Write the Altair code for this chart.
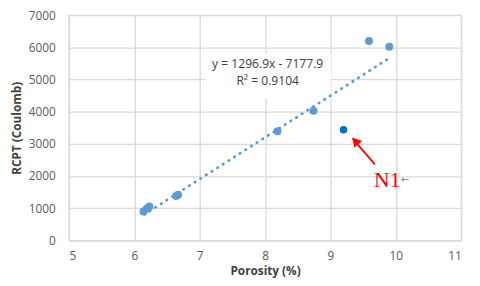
import altair as alt
import pandas as pd

# Measured points (Porosity %, RCPT Coulomb)
por = [6.14, 6.19, 6.23, 6.64, 6.67, 8.19, 8.74, 9.59, 9.90]
rcpt = [900, 980, 1050, 1380, 1420, 3390, 4030, 6200, 6020]
# Outlier N1
n1_por = [9.20]
n1_rcpt = [3440]
# Trendline endpoints
trend_x = [6.15, 9.88]
trend_y = [800, 5640]
# Equation box
eq_lines = ["y = 1296.9x - 7177.9", "R\u00b2 = 0.9104"]
eq_x = [8.04, 8.04]
eq_y = [5480, 4960]
box_x = [7.08]
box_x2 = [9.01]
box_y = [4400]
box_y2 = [5800]
# Arrow
arrow_x = [9.68]
arrow_y = [2360]
arrow_x2 = [9.34]
arrow_y2 = [3160]
head_x = [9.38]
head_y = [3090]
label_x = [9.87]
label_y = [1860]
small_x = [10.14]
small_y = [1880]

x_ticks = [5, 6, 7, 8, 9, 10, 11]
y_ticks = [0, 1000, 2000, 3000, 4000, 5000, 6000, 7000]

FONT = "Open Sans"

xs = alt.Scale(domain=[5, 11], nice=False)
ys = alt.Scale(domain=[0, 7000], nice=False)

xax = alt.Axis(title="Porosity (%)", values=x_ticks, format="d", grid=True, ticks=False,
               labelOverlap=False, labelPadding=11, titlePadding=4)
yax = alt.Axis(title="RCPT (Coulomb)", values=y_ticks, format="d",
               grid=True, ticks=False, labelOverlap=False, labelPadding=14, titlePadding=5)


def X(f="x"):
    return alt.X(f"{f}:Q", scale=xs, axis=xax)


def Y(f="y"):
    return alt.Y(f"{f}:Q", scale=ys, axis=yax)


pts = pd.DataFrame({"x": por, "y": rcpt})
n1 = pd.DataFrame({"x": n1_por, "y": n1_rcpt})
trend = pd.DataFrame({"x": trend_x, "y": trend_y})
eq = pd.DataFrame({"x": eq_x, "y": eq_y, "t": eq_lines})
box = pd.DataFrame({"x": box_x, "x2": box_x2, "y": box_y, "y2": box_y2})
arr = pd.DataFrame({"x": arrow_x, "y": arrow_y, "x2": arrow_x2, "y2": arrow_y2})
head = pd.DataFrame({"x": head_x, "y": head_y})
lab = pd.DataFrame({"x": label_x, "y": label_y, "t": ["N1"]})
small = pd.DataFrame({"x": small_x, "y": small_y, "t": ["\u2190"]})

base_points = alt.Chart(pts).mark_point(filled=True, size=65, opacity=1, color="#5B9BD5").encode(
    x=X(), y=Y())

box_l = alt.Chart(box).mark_rect(color="white").encode(
    x=X(), x2="x2:Q", y=Y(), y2="y2:Q")

trend_l = alt.Chart(trend).mark_line(color="#5B9BD5", strokeWidth=2.8, strokeDash=[0.5, 6.3],
                                      strokeCap="round").encode(x=X(), y=Y())

eq_l = alt.Chart(eq).mark_text(font=FONT, fontSize=12.3, color="#404040").encode(
    x=X(), y=Y(), text="t:N")

n1_l = alt.Chart(n1).mark_point(filled=True, size=60, opacity=1, color="#0070C0").encode(
    x=X(), y=Y())

arr_l = alt.Chart(arr).mark_rule(color="#FF0000", strokeWidth=1.8).encode(
    x=X(), y=Y(), x2="x2:Q", y2="y2:Q")

head_l = alt.Chart(head).mark_point(shape="triangle-up", filled=True, size=110, opacity=1,
                                    color="#FF0000", angle=319).encode(x=X(), y=Y())

lab_l = alt.Chart(lab).mark_text(font="Liberation Serif", fontSize=22, color="#FF0000").encode(
    x=X(), y=Y(), text="t:N")

small_l = alt.Chart(small).mark_text(font="DejaVu Sans", fontSize=10, color="#808080").encode(
    x=X(), y=Y(), text="t:N")

chart = alt.layer(box_l, base_points, trend_l, eq_l, n1_l, arr_l, head_l, lab_l, small_l).properties(
    width=399, height=229,
    autosize=alt.AutoSizeParams(type="none"),
    padding={"left": 62, "top": 5, "right": 11, "bottom": 36},
    background="white",
).configure_view(stroke="#D9D9D9", strokeWidth=1.3).configure_axis(
    gridColor="#D9D9D9", gridWidth=1.3, domainColor="#D9D9D9", domainWidth=1.3,
    labelFont=FONT, labelFontSize=12, labelColor="#595959",
    titleFont=FONT, titleFontSize=12, titleFontWeight="bold", titleColor="#404040",
)

chart.save("out.html", embed_options={"renderer": "svg", "actions": False})
